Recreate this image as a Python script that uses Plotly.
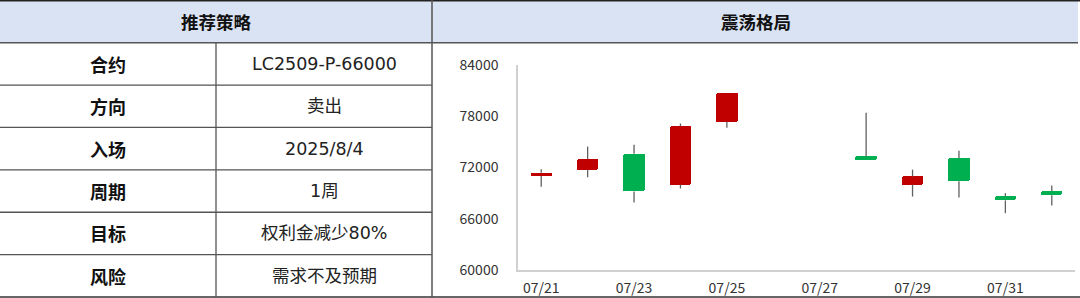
import plotly.graph_objects as go

# ---------------- data ----------------
table_title = "推荐策略"
chart_title = "震荡格局"
row_labels = ["合约", "方向", "入场", "周期", "目标", "风险"]
row_values = ["LC2509-P-66000", "卖出", "2025/8/4", "1周", "权利金减少80%", "需求不及预期"]

dates = ["2025-07-21", "2025-07-22", "2025-07-23", "2025-07-24", "2025-07-25",
         "2025-07-28", "2025-07-29", "2025-07-30", "2025-07-31", "2025-08-01"]
open_ = [71000, 71700, 73600, 70000, 77350, 73300, 70000, 73100, 68650, 69250]
close = [71400, 73000, 69200, 76850, 80700, 72900, 70950, 70400, 68150, 68750]
high = [71800, 74450, 74650, 77150, 80700, 78400, 71750, 73950, 69000, 69900]
low = [69750, 70850, 67900, 69550, 76650, 72900, 68600, 68500, 66650, 67550]

y_ticks = [60000, 66000, 72000, 78000, 84000]
x_ticks = ["2025-07-21", "2025-07-23", "2025-07-25", "2025-07-27", "2025-07-29", "2025-07-31"]
x_ticktext = ["07/21", "07/23", "07/25", "07/27", "07/29", "07/31"]

# ---------------- layout helpers ----------------
W, H = 1080, 298
def px(x):
    return x / W
def py(y):
    return 1 - y / H

UP = "#C00000"
DOWN = "#00B050"
WICK = "#606060"
LINE = "#555555"
HEADER_BG = "#DAE3F3"
FONT = "Noto Sans CJK SC"
VALUE_FONT = "DejaVu Sans, Noto Sans CJK SC"

fig = go.Figure()

# wicks (drawn outside the bodies so they never cross them)
wx, wy = [], []
for d, o, c, h, l in zip(dates, open_, close, high, low):
    top, bot = max(o, c), min(o, c)
    if h > top:
        wx += [d, d, None]
        wy += [top, h, None]
    if l < bot:
        wx += [d, d, None]
        wy += [l, bot, None]
fig.add_trace(go.Scatter(x=wx, y=wy, mode="lines",
                         line=dict(color=WICK, width=1.3),
                         hoverinfo="skip", showlegend=False))

# bodies
base = [min(o, c) for o, c in zip(open_, close)]
height = [max(abs(c - o), 1) for o, c in zip(open_, close)]
colors = [UP if c >= o else DOWN for o, c in zip(open_, close)]
fig.add_trace(go.Bar(x=dates, y=height, base=base,
                     width=0.46 * 86400000,
                     marker=dict(color=colors, line=dict(width=0), cornerradius=2),
                     showlegend=False))

shapes = []
shapes.append(dict(type="rect", xref="paper", yref="paper",
                   x0=0, x1=px(1078), y0=py(42.7), y1=py(0),
                   fillcolor=HEADER_BG, line=dict(width=0), layer="below"))
shapes.append(dict(type="line", xref="paper", yref="paper",
                   x0=0, x1=px(1080), y0=py(0.7), y1=py(0.7),
                   line=dict(color="#222222", width=1.5)))
shapes.append(dict(type="line", xref="paper", yref="paper",
                   x0=0, x1=px(1078), y0=py(42.7), y1=py(42.7),
                   line=dict(color=LINE, width=1.5)))
shapes.append(dict(type="line", xref="paper", yref="paper",
                   x0=0, x1=px(1080), y0=py(297), y1=py(297),
                   line=dict(color="#333333", width=1.5)))
row_h = (297 - 42.7) / len(row_labels)
for i in range(1, len(row_labels)):
    yy = 42.7 + i * row_h
    shapes.append(dict(type="line", xref="paper", yref="paper",
                       x0=0, x1=px(432), y0=py(yy), y1=py(yy),
                       line=dict(color=LINE, width=1.3)))
shapes.append(dict(type="line", xref="paper", yref="paper",
                   x0=px(216), x1=px(216), y0=py(42.7), y1=py(297),
                   line=dict(color=LINE, width=1.3)))
shapes.append(dict(type="line", xref="paper", yref="paper",
                   x0=px(432), x1=px(432), y0=py(0), y1=py(297),
                   line=dict(color=LINE, width=1.5)))

annotations = []
def ann(text, x, y, color="#111111", family=FONT, size=18):
    annotations.append(dict(text=text, xref="paper", yref="paper",
                            x=px(x), y=py(y), xanchor="center", yanchor="middle",
                            showarrow=False,
                            font=dict(family=family, size=size, color=color)))

ann(f"<b>{table_title}</b>", 216, 21.5, size=17.5)
ann(f"<b>{chart_title}</b>", 756, 21.5, size=17.5)
for i, (lab, val) in enumerate(zip(row_labels, row_values)):
    yc = 42.7 + (i + 0.5) * row_h
    ann(f"<b>{lab}</b>", 108, yc)
    ann(val, 324, yc, "#222222", VALUE_FONT, 17.5)

fig.update_layout(
    width=W, height=H,
    margin=dict(l=0, r=0, t=0, b=0, autoexpand=False),
    paper_bgcolor="white", plot_bgcolor="white",
    shapes=shapes, annotations=annotations,
    bargap=0,
    showlegend=False,
    xaxis=dict(type="date", domain=[px(518), px(1075)],
               range=["2025-07-20 12:00", "2025-08-01 12:00"],
               tickvals=x_ticks, ticktext=x_ticktext,
               showgrid=False, zeroline=False, automargin=False,
               showline=True, linecolor="#D0D0D0", linewidth=1.5,
               ticks="outside", ticklen=4, tickcolor="rgba(0,0,0,0)",
               tickfont=dict(family=FONT, size=14, color="#333333")),
    yaxis=dict(domain=[py(270), py(65)], range=[60000, 84000],
               tickvals=y_ticks, tickformat="d",
               showgrid=False, zeroline=False, automargin=False,
               showline=True, linecolor="#D0D0D0", linewidth=1.5,
               ticks="outside", ticklen=15, tickcolor="rgba(0,0,0,0)",
               tickfont=dict(family=FONT, size=14, color="#333333")),
)

fig.write_html("out.html")
